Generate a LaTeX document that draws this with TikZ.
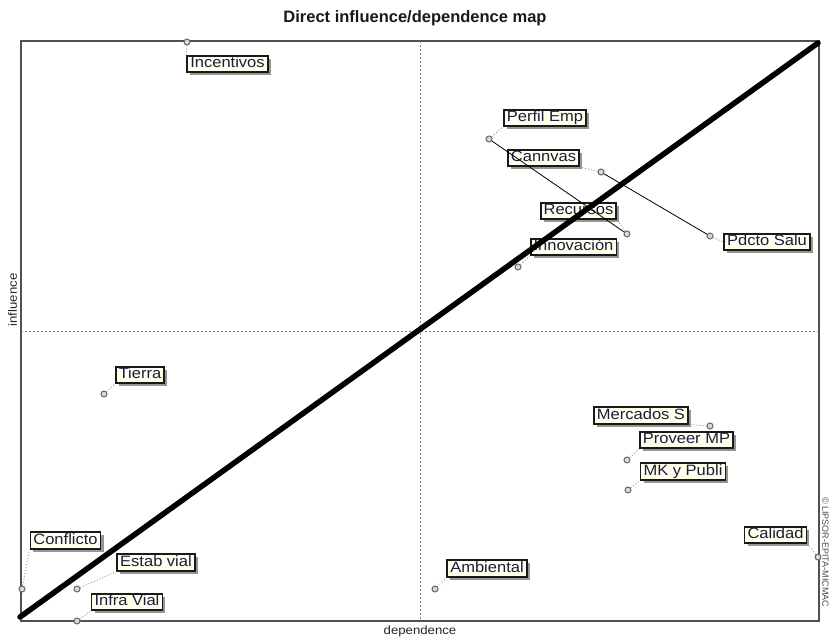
\documentclass[tikz,border=0pt]{standalone}
\usepackage{fontspec}
\setmainfont{Liberation Sans}
\newfontfamily\lblface[FakeStretch=1.1]{Liberation Sans}
\usetikzlibrary{shadows}
\definecolor{cream}{RGB}{255,255,236}
\definecolor{ink}{RGB}{28,26,64}
\definecolor{framegray}{RGB}{80,80,80}
\definecolor{leadgray}{RGB}{160,160,160}
\begin{document}
\begin{tikzpicture}[x=1pt,y=-1pt,
  lbl/.style={draw=black!90, line width=1.8pt, fill=cream, text=ink,
    inner xsep=3pt, inner ysep=1.2pt, text height=10.8pt, text depth=3.2pt,
    font=\lblface\fontsize{15}{18}\selectfont,
    drop shadow={shadow xshift=3pt, shadow yshift=-3pt, fill=black!55, opacity=.75}},
  pnt/.style={circle, draw=black!60, fill=black!15, line width=1pt,
    minimum size=6pt, inner sep=0pt},
  leader/.style={draw=leadgray, dotted, line width=1pt},
  link/.style={draw=black, line width=0.8pt},
  axisline/.style={draw=black!50, dashed, dash pattern=on 2pt off 2pt, line width=0.7pt},
  axislbl/.style={text=black!85, font=\lblface\fontsize{12}{14}\selectfont, inner sep=0pt}]
\useasboundingbox (0,0) rectangle (830,637);

% title
\node[font=\bfseries\fontsize{16.5}{19}\selectfont, text=black!90] (title) at (415,18) {Direct influence/dependence map};

% plot frame and centre cross
\draw[framegray, line width=1.4pt] (21,41) rectangle (819,621);
\coordinate (vtop) at (420,41);
\coordinate (vbot) at (420,621);
\coordinate (hleft) at (21,331);
\coordinate (hright) at (819,331);
\draw[axisline] (vtop) -- (vbot);
\draw[axisline] (hleft) -- (hright);

% axis captions
\node[axislbl] (ylab) at (12.5,300) [rotate=90] {influence};
\node[axislbl] (xlab) at (420,631) {dependence};
\node[text=black!70, font=\fontsize{9}{10}\selectfont, inner sep=0pt, rotate=-90] (copy) at (825.5,552) {© LIPSOR-EPITA-MICMAC};

% variable positions
\node[pnt] (pInc) at (187,42) {};
\node[pnt] (pPerf) at (489,139) {};
\node[pnt] (pCann) at (601,172) {};
\node[pnt] (pRec) at (627,234) {};
\node[pnt] (pInn) at (518,267) {};
\node[pnt] (pPdc) at (710,236) {};
\node[pnt] (pTie) at (104,394) {};
\node[pnt] (pMer) at (710,426) {};
\node[pnt] (pPro) at (627,460) {};
\node[pnt] (pMK) at (628,490) {};
\node[pnt] (pCal) at (818,557) {};
\node[pnt] (pAmb) at (435,589) {};
\node[pnt] (pCon) at (22,589) {};
\node[pnt] (pEst) at (77,589) {};
\node[pnt] (pInf) at (77,621) {};

% labels
\node[lbl] (lInc) at (227.5,64) {Incentivos};
\node[lbl] (lPerf) at (545,118) {Perfil Emp};
\node[lbl] (lCann) at (543.5,158) {Cannvas};
\node[lbl] (lRec) at (578.5,211) {Recursos};
\node[lbl] (lInn) at (573.5,247) {Innovación};
\node[lbl] (lPdc) at (767,242) {Pdcto Salu};
\node[lbl] (lTie) at (140,375) {Tierra};
\node[lbl] (lMer) at (641,415.5) {Mercados S};
\node[lbl] (lPro) at (686.5,440) {Proveer MP};
\node[lbl] (lMK) at (683,471.5) {MK y Publi};
\node[lbl] (lCal) at (775.5,535) {Calidad};
\node[lbl] (lAmb) at (487,568.5) {Ambiental};
\node[lbl] (lCon) at (65.5,540.5) {Conflicto};
\node[lbl] (lEst) at (156,562.5) {Estab vial};
\node[lbl] (lInf) at (127,602) {Infra Vial};

% leaders from points to labels
\draw[leader] (pInc) -- (lInc.north west);
\draw[leader] (pPerf) -- (lPerf.south west);
\draw[leader] (pCann) -- (lCann.south east);
\draw[leader] (pRec) -- (lRec.south east);
\draw[leader] (pInn) -- (lInn.south west);
\draw[leader] (pPdc) -- (lPdc.west);
\draw[leader] (pTie) -- (lTie.south west);
\draw[leader] (pMer) -- (lMer.south east);
\draw[leader] (pPro) -- (lPro.south west);
\draw[leader] (pMK) -- (lMK.south west);
\draw[leader] (pCal) -- (lCal.south east);
\draw[leader] (pAmb) -- (lAmb.south west);
\draw[leader] (pCon) -- (lCon.south west);
\draw[leader] (pEst) -- (lEst.south west);
\draw[leader] (pInf) -- (lInf.south west);

% displacement links
\draw[link] (pPerf) -- (pRec);
\draw[link] (pCann) -- (pPdc);

% diagonal
\coordinate (dA) at (20,617);
\coordinate (dB) at (818,43);
\draw[black, line width=5.5pt, line cap=round] (dA) -- (dB);
\end{tikzpicture}
\end{document}
